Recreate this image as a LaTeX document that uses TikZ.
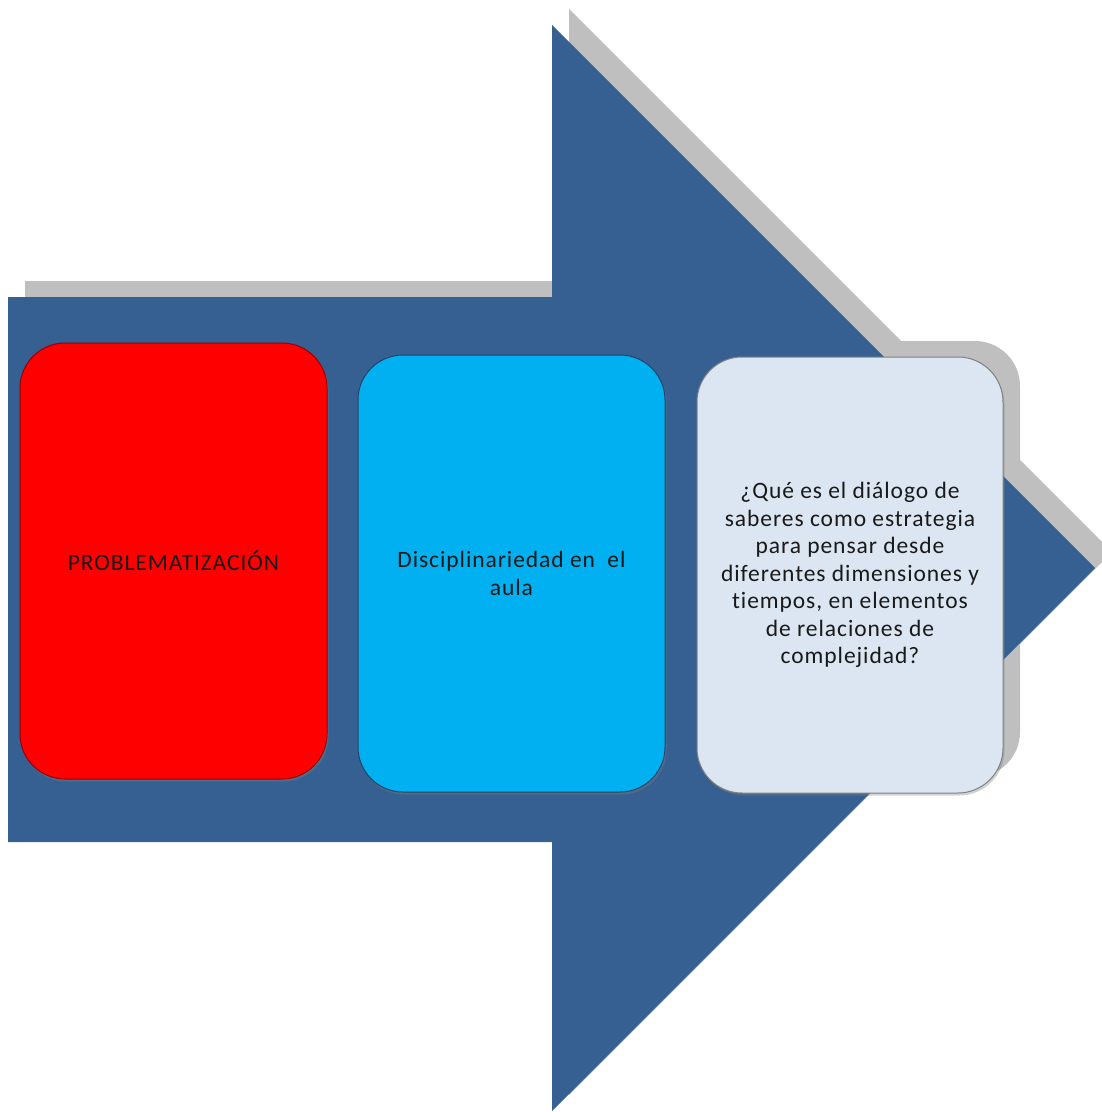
\documentclass[tikz,border=0pt]{standalone}
\usepackage{fontspec}
\setmainfont{Carlito}
\newfontfamily\stagefont{Carlito}[LetterSpace=4,Ligatures=NoCommon]
\usetikzlibrary{positioning,shadows}

\definecolor{arrowblue}{HTML}{366092}
\definecolor{shadowgray}{HTML}{BFBFBF}
\definecolor{probred}{HTML}{FF0000}
\definecolor{discblue}{HTML}{00B0F0}
\definecolor{quelight}{HTML}{DCE6F2}

\tikzset{
  stage/.style={rounded corners=45pt, minimum width=307pt, minimum height=436pt,
    inner sep=0pt, line width=1pt, align=center, text=black!90,
    font=\stagefont\fontsize{23.5}{27.5}\selectfont,
    drop shadow={opacity=0.35, shadow xshift=1.5pt, shadow yshift=-2.5pt}},
  stageshadow/.style={fill=shadowgray, rounded corners=45pt}
}

\begin{document}
\begin{tikzpicture}[x=1pt,y=-1pt]
  \useasboundingbox (0,0) rectangle (1102,1112);
  % shadows
  \fill[shadowgray,shift={(17,-16)}] (8,297) -- (552,297) -- (552,25) -- (1095,568) -- (552,1111) -- (552,842) -- (8,842) -- cycle;
  \foreach \l/\t/\r/\b in {20/343/327/779, 358/355/665/792, 697/357/1003/793}
    \fill[stageshadow] (\l+17,\t-16) rectangle (\r+17,\b-16);
  % arrow
  \fill[arrowblue] (8,297) -- (552,297) -- (552,25) -- (1095,568) -- (552,1111) -- (552,842) -- (8,842) -- cycle;
  % boxes
  \node[stage, fill=probred, draw=probred!60!black] (prob) at (173.5,561) {PROBLEMATIZACIÓN};
  \node[stage, fill=discblue, draw=arrowblue!70!black, minimum height=437pt] (disc) at (511.5,573.5) {Disciplinariedad en~ el\\aula};
  \node[stage, fill=quelight, draw=black!50, minimum width=306pt] (que) at (850,575)
    {¿Qué es el diálogo de\\saberes como estrategia\\para pensar desde\\diferentes dimensiones y\\tiempos, en elementos\\de relaciones de\\complejidad?};
\end{tikzpicture}
\end{document}
